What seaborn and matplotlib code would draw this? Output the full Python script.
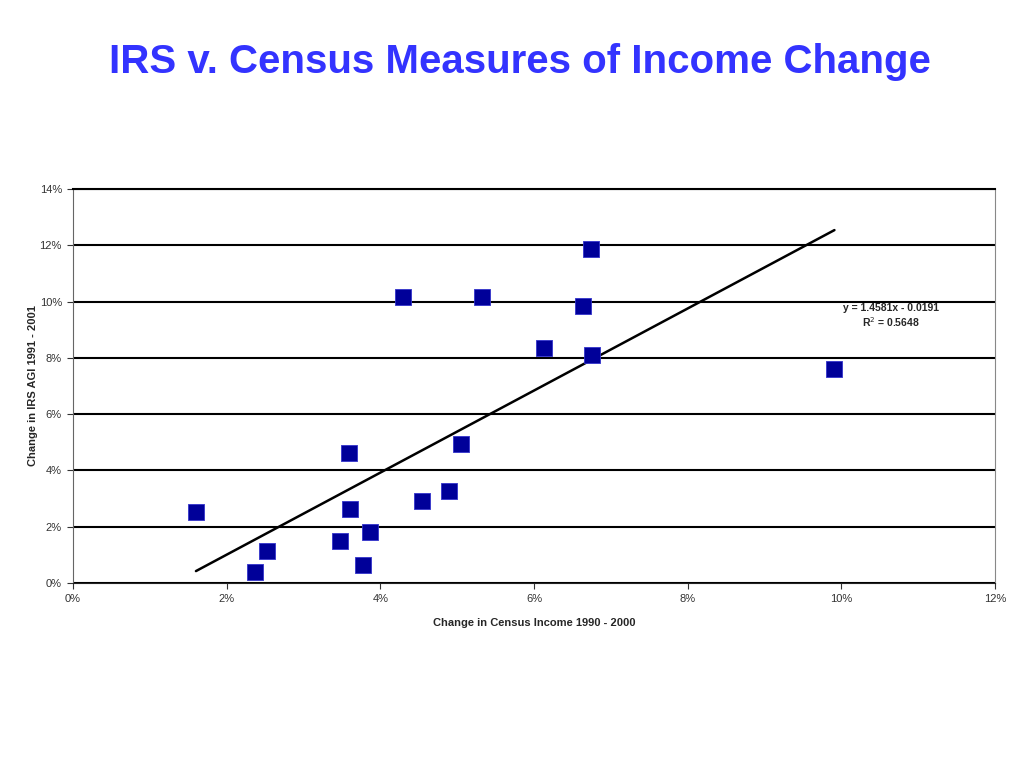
import numpy as np
import pandas as pd
import matplotlib
matplotlib.use('Agg')
import matplotlib.pyplot as plt
import seaborn as sns
from matplotlib.ticker import PercentFormatter

# census income change 1990-2000 (x) vs IRS AGI change 1991-2001 (y)
census_change = [0.0160, 0.0237, 0.0253, 0.0348, 0.0359, 0.0361, 0.0377, 0.0387,
                 0.0430, 0.0454, 0.0489, 0.0505, 0.0532, 0.0613, 0.0664, 0.0674,
                 0.0676, 0.0991]
irs_change = [0.0252, 0.0039, 0.0114, 0.0149, 0.0462, 0.0263, 0.0064, 0.0181,
              0.1016, 0.0291, 0.0327, 0.0494, 0.1016, 0.0835, 0.0984, 0.1187,
              0.0810, 0.0760]

# trendline from the chart
slope = 1.4581
intercept = -0.0191

df = pd.DataFrame({'census': census_change, 'irs': irs_change})

sns.set_style('white')
plt.rcParams['font.family'] = ['Liberation Sans', 'DejaVu Sans']

fig = plt.figure(figsize=(10.24, 7.68), dpi=100)
ax = fig.add_axes([0.0713, 0.2409, 0.9004, 0.513])

trend_x = np.array([min(census_change), max(census_change)])
trend = pd.DataFrame({'x': trend_x, 'y': slope * trend_x + intercept})
sns.lineplot(data=trend, x='x', y='y', color='black', linewidth=1.8, ax=ax, zorder=2)

sns.scatterplot(data=df, x='census', y='irs', marker='s', s=130, color='#000099',
                edgecolor='#3333cc', linewidth=0.6, ax=ax, zorder=3)

ax.set_xlim(0, 0.12)
ax.set_ylim(0, 0.14)
ax.set_xticks(np.arange(0, 0.121, 0.02))
ax.set_yticks(np.arange(0, 0.141, 0.02))
ax.xaxis.set_major_formatter(PercentFormatter(1.0, decimals=0))
ax.yaxis.set_major_formatter(PercentFormatter(1.0, decimals=0))
ax.yaxis.grid(True, color='black', linewidth=1.5)
ax.set_axisbelow(True)
ax.spines['left'].set_color('#666666')
ax.spines['bottom'].set_color('#222222')
ax.spines['top'].set_color('black')
ax.spines['top'].set_linewidth(1.5)
ax.spines['right'].set_color('#888888')
ax.spines['right'].set_linewidth(0.8)
ax.tick_params(axis='both', labelsize=8, colors='#333333', length=4, width=0.8,
               direction='out', bottom=True, left=True, pad=4)

ax.set_xlabel('Change in Census Income 1990 - 2000', fontsize=8, fontweight='bold', labelpad=10)
ax.set_ylabel('Change in IRS AGI 1991 - 2001', fontsize=8, fontweight='bold')
ax.yaxis.set_label_coords(-0.038, 0.5)

ax.text(0.1065, 0.0949, 'y = 1.4581x - 0.0191\nR$^2$ = 0.5648', ha='center', va='center',
        fontsize=7.5, fontweight='bold', linespacing=1.15)

fig.text(0.508, 0.919, 'IRS v. Census Measures of Income Change', ha='center', va='center',
         fontsize=29, fontweight='bold', color='#3333ff')

fig.savefig('out.png', dpi=100)
